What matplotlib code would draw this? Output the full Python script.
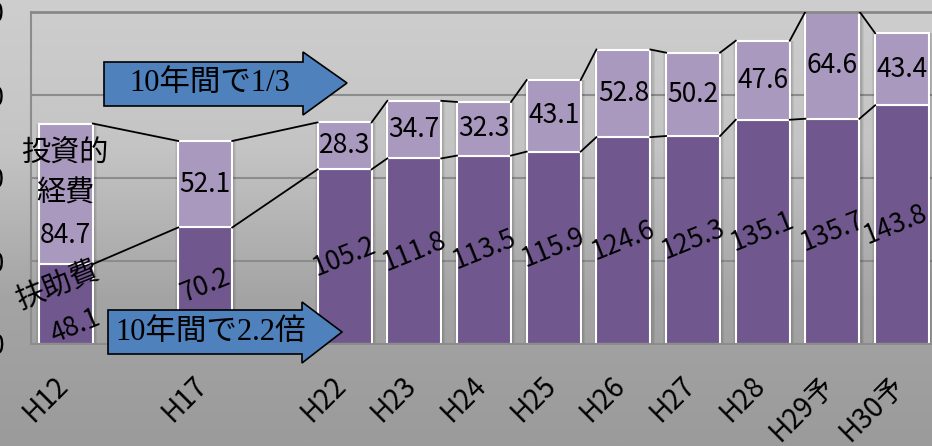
import matplotlib
matplotlib.use("Agg")
import matplotlib.pyplot as plt
import numpy as np
from matplotlib.patches import Polygon
from matplotlib.transforms import ScaledTranslation

plt.rcParams['font.family'] = ['Noto Sans CJK JP', 'DejaVu Sans']

# data
years = ['H12', 'H17', 'H22', 'H23', 'H24', 'H25', 'H26', 'H27', 'H28', 'H29予', 'H30予']
slots = [0, 2, 4, 5, 6, 7, 8, 9, 10, 11, 12]   # gaps after H12 and H17
fujo = [48.1, 70.2, 105.2, 111.8, 113.5, 115.9, 124.6, 125.3, 135.1, 135.7, 143.8]
toshi = [84.7, 52.1, 28.3, 34.7, 32.3, 43.1, 52.8, 50.2, 47.6, 64.6, 43.4]
yticks = [0, 50, 100, 150, 200]

W, H = 932, 446
dark = '#70588f'
light = '#a999bf'
bw = 0.775

fig = plt.figure(figsize=(W / 100, H / 100), dpi=100)

# gray gradient background
bg = fig.add_axes([0, 0, 1, 1], zorder=-5)
grad = np.linspace(0, 1, 256).reshape(-1, 1)
bg.imshow(grad, aspect='auto', cmap=matplotlib.colors.LinearSegmentedColormap.from_list(
    'g', ['#cecece', '#c4c4c4', '#a4a4a4', '#9b9b9b']), extent=[0, 1, 0, 1])
bg.axis('off')

ax = fig.add_axes([31 / W, 102 / H, 906 / W, 332 / H])
ax.set_facecolor('none')
ax.set_xlim(-0.5, 12.5)
ax.set_ylim(0, 200)

x = np.array(slots, dtype=float)
fujo = np.array(fujo)
toshi = np.array(toshi)
total = fujo + toshi

# soft shadow around the bars
for k, a in [(0.10, 0.05), (0.07, 0.06), (0.04, 0.08)]:
    ax.bar(x + 0.01, total, width=bw + k, color='black', alpha=a, linewidth=0, zorder=1)

ax.bar(x, fujo, width=bw, color=dark, edgecolor='white', linewidth=1.5, zorder=2)
ax.bar(x, toshi, bottom=fujo, width=bw, color=light, edgecolor='white', linewidth=1.5, zorder=2)

# series lines
for i in range(len(x) - 1):
    x0, x1 = x[i] + bw / 2, x[i + 1] - bw / 2
    ax.plot([x0, x1], [fujo[i], fujo[i + 1]], color='black', lw=1.3, zorder=3)
    ax.plot([x0, x1], [total[i], total[i + 1]], color='black', lw=1.3, zorder=3)

# value labels
n = len(x)
for i in range(n):
    dx, dy = (7, -16) if i == 0 else (0, 0)
    if i == n - 1:
        dx = -5
    ax.annotate(f'{fujo[i]:.1f}', (x[i], fujo[i] / 2), xytext=(dx, dy),
                textcoords='offset points', ha='center', va='center',
                rotation=22, rotation_mode='anchor', fontsize=19, zorder=5)
    dy2 = -30 if i == 0 else 0
    ax.annotate(f'{toshi[i]:.1f}', (x[i], fujo[i] + toshi[i] / 2), xytext=(0, dy2),
                textcoords='offset points', ha='center', va='center',
                fontsize=19, zorder=5)

# grid and axes
ax.set_yticks(yticks)
ax.yaxis.grid(True, color='#8c8c8c', lw=1.5, zorder=0)
ax.set_axisbelow(True)
ax.spines['right'].set_visible(False)
ax.spines['top'].set_color('#888888')
ax.spines['top'].set_linewidth(2)
ax.spines['left'].set_color('#8c8c8c')
ax.spines['left'].set_linewidth(1.5)
ax.spines['bottom'].set_color('#8c8c8c')
ax.spines['bottom'].set_linewidth(1.5)
ax.tick_params(axis='y', length=0, pad=19, labelsize=19)
ax.tick_params(axis='x', length=0, pad=19, labelsize=20)
ax.set_xticks(x, years, rotation=45, ha='right', va='top')
for lbl in ax.get_xticklabels():
    lbl.set_transform(lbl.get_transform() + ScaledTranslation(0.08, 0, fig.dpi_scale_trans))

# category captions
fig.text(65 / W, 1 - 154 / H, '投資的', ha='center', va='center', fontsize=21, zorder=6)
fig.text(65 / W, 1 - 194 / H, '経費', ha='center', va='center', fontsize=21, zorder=6)
fig.text(58 / W, 1 - 286 / H, '扶助費', ha='center', va='center', fontsize=21,
         rotation=22, rotation_mode='anchor', zorder=6)


# block arrows
def block_arrow(x0, x1, tip, y0, y1, yh0, yh1, ty):
    pts = [(x0, y0), (x1, y0), (x1, yh0), (tip, ty), (x1, yh1), (x1, y1), (x0, y1)]
    pts = [(px / W, 1 - py / H) for px, py in pts]
    fig.patches.append(Polygon(pts, closed=True, facecolor='#4f81bd', edgecolor='black',
                               lw=1.2, transform=fig.transFigure, zorder=4))


block_arrow(104, 303, 347, 62, 106, 52, 115, 83)
block_arrow(108, 302, 342, 310, 354, 302, 363, 332)
mixed = ['Liberation Serif', 'Noto Sans CJK JP']
fig.text(210 / W, 1 - 83 / H, '10年間で1/3', ha='center', va='center', fontsize=22,
         family=mixed, zorder=6)
fig.text(211 / W, 1 - 332 / H, '10年間で2.2倍', ha='center', va='center', fontsize=22,
         family=mixed, zorder=6)

fig.savefig('out.png', dpi=100)
